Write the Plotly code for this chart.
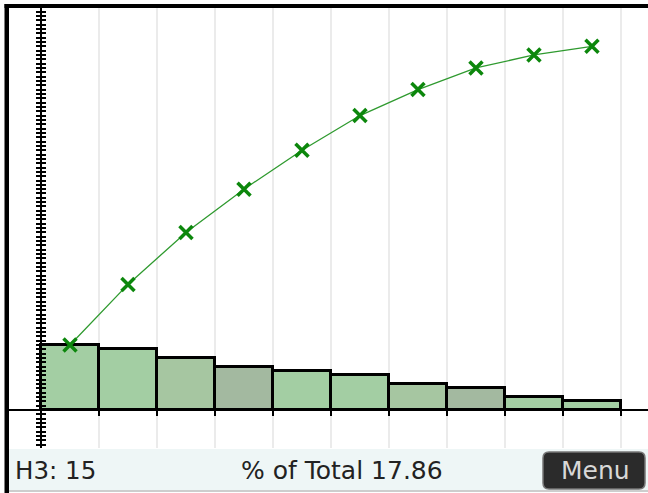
import numpy as np
import plotly.graph_objects as go

# ---- data ----
categories = [1, 2, 3, 4, 5, 6, 7, 8, 9, 10]
counts = [15, 14, 12, 10, 9, 8, 6, 5, 3, 2]
bar_colors = ["#a3cea3", "#a3cea3", "#a6c6a1", "#a3b9a0", "#a3cea3",
              "#a3cea3", "#a6c6a1", "#a3b9a0", "#a3cea3", "#a3cea3"]
cumulative = list(np.cumsum(counts))
status_left = "H3: 15"
status_mid = "% of Total 17.86"
menu_label = "Menu"

W, H = 648, 493
L, R, T, B = 9, 648, 8, 448  # plot area in pixels


def fx(p):
    return (p - L) / (R - L)


def fy(p):
    return (B - p) / (B - T)


FONT = "DejaVu Sans"

fig = go.Figure()
fig.add_trace(go.Bar(
    x=categories, y=counts, width=1,
    marker=dict(color=bar_colors, line=dict(color="black", width=3)),
    yaxis="y", hoverinfo="skip",
))
fig.add_trace(go.Scatter(
    x=categories, y=cumulative, mode="lines+markers",
    line=dict(color="#2f9a2f", width=1.3),
    marker=dict(symbol="x-thin", size=13, color="#0c870c",
                line=dict(color="#0c870c", width=3.5)),
    yaxis="y2", hoverinfo="skip", cliponaxis=False,
))

yr = [-8.78, 92.84]
xr = [-0.0517, 10.966]
edges = [c - 0.5 for c in categories] + [categories[-1] + 0.5]

# status bar, menu button, borders
r = 6
x0, x1, y0, y1 = 543, 645, 452, 489
path = (f"M {fx(x0+r)},{fy(y0)} L {fx(x1-r)},{fy(y0)} Q {fx(x1)},{fy(y0)} {fx(x1)},{fy(y0+r)} "
        f"L {fx(x1)},{fy(y1-r)} Q {fx(x1)},{fy(y1)} {fx(x1-r)},{fy(y1)} "
        f"L {fx(x0+r)},{fy(y1)} Q {fx(x0)},{fy(y1)} {fx(x0)},{fy(y1-r)} "
        f"L {fx(x0)},{fy(y0+r)} Q {fx(x0)},{fy(y0)} {fx(x0+r)},{fy(y0)} Z")
shapes = [
    dict(type="rect", xref="paper", yref="paper", x0=fx(9), x1=fx(648), y0=fy(449), y1=fy(490),
         fillcolor="#eef6f6", line=dict(width=0), layer="below"),
    dict(type="line", xref="paper", yref="paper", x0=fx(9), x1=fx(648), y0=fy(491), y1=fy(491),
         line=dict(color="#bdbdbd", width=1.5)),
    dict(type="path", xref="paper", yref="paper", path=path,
         fillcolor="#2b2b2b", line=dict(color="#777777", width=1.5)),
    dict(type="rect", xref="paper", yref="paper", x0=fx(4.5), x1=fx(9), y0=fy(4), y1=fy(493),
         fillcolor="black", line=dict(width=0)),
    dict(type="rect", xref="paper", yref="paper", x0=fx(4.5), x1=fx(648), y0=fy(4), y1=fy(8),
         fillcolor="black", line=dict(width=0)),
]

annotations = [
    dict(text=status_left, xref="paper", yref="paper", x=fx(13), y=fy(470),
         xanchor="left", yanchor="middle", showarrow=False,
         font=dict(family=FONT, size=24.5, color="#222222")),
    dict(text=status_mid, xref="paper", yref="paper", x=fx(341.5), y=fy(470),
         xanchor="center", yanchor="middle", showarrow=False,
         font=dict(family=FONT, size=25, color="#222222")),
    dict(text=menu_label, xref="paper", yref="paper", x=fx(595), y=fy(470),
         xanchor="center", yanchor="middle", showarrow=False,
         font=dict(family=FONT, size=25, color="#d8d8d8")),
]

fig.update_layout(
    width=W, height=H,
    margin=dict(l=L, r=W - R, t=T, b=H - B, pad=0),
    paper_bgcolor="white", plot_bgcolor="white",
    showlegend=False, bargap=0,
    xaxis=dict(range=xr, anchor="free", position=fy(410),
               tickmode="array", tickvals=edges, ticks="outside", ticklen=5,
               tickwidth=1.5, tickcolor="black",
               showgrid=True, gridcolor="#ebebeb", gridwidth=1.5,
               showline=True, linecolor="black", linewidth=2,
               showticklabels=False, zeroline=False, fixedrange=True),
    yaxis=dict(range=yr, anchor="free", position=fx(41),
               tick0=0, dtick=1, ticks="outside", ticklen=4, tickwidth=1.5,
               tickcolor="black", showline=True, linecolor="black", linewidth=2,
               showgrid=False, zeroline=False, showticklabels=False, fixedrange=True),
    yaxis2=dict(range=yr, overlaying="y", anchor="free", position=fx(41), side="left",
                tick0=0, dtick=1, ticks="inside", ticklen=4, tickwidth=1.5,
                tickcolor="black", showline=False,
                showgrid=False, zeroline=False, showticklabels=False, fixedrange=True),
    shapes=shapes, annotations=annotations,
)

fig.write_html("out.html", config={"displayModeBar": False},
               post_script="document.body.style.margin='0px';document.body.style.overflow='hidden';")
